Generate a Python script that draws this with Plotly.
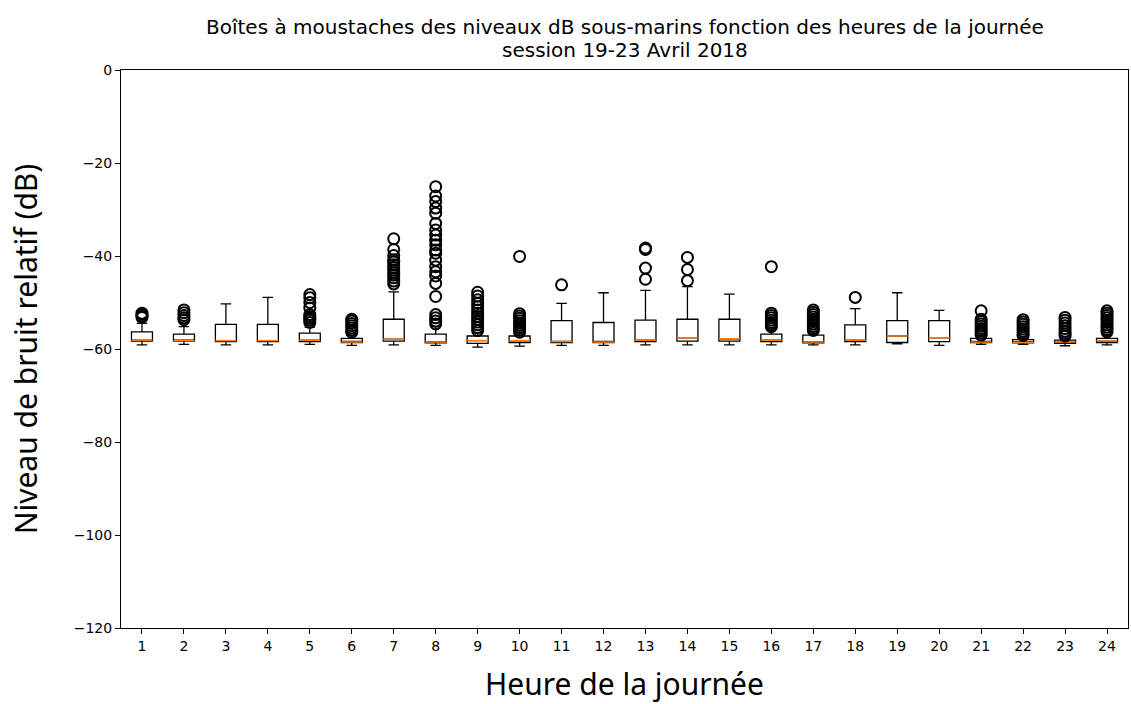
import plotly.graph_objects as go

# heures de la journée
hours = list(range(1, 25))

# statistiques des boîtes (dB)
lower_whisker = [-59.1, -59.0, -59.1, -59.1, -59.0, -59.2, -59.1, -59.2, -59.6, -59.4, -59.2, -59.2,
                 -59.1, -59.1, -59.1, -59.1, -59.1, -59.1, -58.9, -59.2, -59.0, -59.0, -59.3, -59.1]
q1 = [-58.3, -58.3, -58.4, -58.4, -58.4, -58.6, -58.3, -58.7, -58.8, -58.6, -58.6, -58.6,
      -58.4, -58.3, -58.3, -58.4, -58.7, -58.4, -58.6, -58.4, -58.6, -58.7, -58.8, -58.6]
median = [-58.1, -58.2, -58.2, -58.2, -58.1, -58.5, -57.9, -58.5, -58.2, -58.2, -58.4, -58.5,
          -58.1, -57.6, -57.8, -58.1, -58.5, -58.1, -57.2, -57.6, -58.5, -58.6, -58.5, -58.3]
q3 = [-56.3, -56.8, -54.7, -54.7, -56.6, -57.7, -53.6, -56.8, -57.2, -57.2, -53.9, -54.3,
      -53.8, -53.6, -53.6, -56.8, -57.0, -54.8, -53.9, -53.9, -57.7, -58.0, -58.1, -57.7]
upper_whisker = [-54.5, -55.2, -50.3, -48.9, -55.3, -57.0, -47.7, -55.2, -56.5, -56.0, -50.2, -47.9,
                 -47.4, -46.6, -48.2, -55.5, -56.3, -51.3, -47.9, -51.7, -57.2, -57.6, -57.6, -57.0]

# valeurs aberrantes par heure
outliers = {
    1: [-52.3, -52.6, -52.9, -53.2],
    2: [-51.6, -52.2, -52.8, -53.3, -53.7],
    3: [],
    4: [],
    5: [-48.3, -49.0, -50.0, -51.2, -52.6, -53.0, -53.4, -53.8, -54.3],
    6: [-53.6, -54.0, -54.5, -55.0, -55.5, -56.0, -56.4],
    7: [-36.3, -38.6, -39.9, -40.8, -41.3, -41.9, -42.5, -43.0, -43.6, -44.1, -44.7, -45.4, -46.0],
    8: [-25.1, -27.1, -28.3, -29.7, -30.8, -33.0, -34.4, -35.5, -36.6, -37.6, -38.7, -39.4, -40.9,
        -42.3, -43.4, -44.3, -45.9, -48.7, -52.6, -53.3, -54.0, -54.6],
    9: [-47.8, -48.6, -49.4, -50.2, -50.9, -51.6, -52.3, -53.0, -53.6, -54.2, -54.8, -55.4, -56.0],
    10: [-40.1, -52.4, -52.9, -53.4, -53.9, -54.4, -54.9, -55.4, -55.9, -56.4],
    11: [-46.2],
    12: [],
    13: [-38.3, -38.6, -42.6, -45.0],
    14: [-40.3, -42.9, -45.3],
    15: [],
    16: [-42.3, -52.3, -52.8, -53.3, -53.8, -54.3, -54.8, -55.2],
    17: [-51.6, -52.1, -52.6, -53.1, -53.6, -54.1, -54.6, -55.1, -55.6, -56.0],
    18: [-48.9],
    19: [],
    20: [],
    21: [-51.8, -53.6, -54.1, -54.6, -55.1, -55.6, -56.1, -56.6, -57.0],
    22: [-53.7, -54.2, -54.7, -55.2, -55.7, -56.2, -56.7, -57.1],
    23: [-53.2, -53.8, -54.4, -55.0, -55.6, -56.2, -56.8, -57.2],
    24: [-51.8, -52.3, -52.8, -53.3, -53.8, -54.3, -54.8, -55.3, -55.8, -56.3],
}

y_ticks = [0, -20, -40, -60, -80, -100, -120]

title_lines = ["Boîtes à moustaches des niveaux dB sous-marins fonction des heures de la journée",
               "session 19-23 Avril 2018"]

BOX_W = 0.5

fig = go.Figure()

fig.add_trace(go.Box(
    x=hours,
    q1=q1, median=median, q3=q3,
    lowerfence=lower_whisker, upperfence=upper_whisker,
    width=BOX_W,
    whiskerwidth=0.5,
    fillcolor="white",
    line=dict(color="black", width=1.3),
    boxpoints=False,
    showlegend=False,
    hoverinfo="skip",
))

# lignes médianes orange
mx, my = [], []
for h, m in zip(hours, median):
    mx += [h - BOX_W / 2, h + BOX_W / 2, None]
    my += [m, m, None]
fig.add_trace(go.Scatter(x=mx, y=my, mode="lines", line=dict(color="#ff7f0e", width=1.5),
                         showlegend=False, hoverinfo="skip"))

# points aberrants
ox, oy = [], []
for h in hours:
    for v in outliers[h]:
        ox.append(h)
        oy.append(v)
fig.add_trace(go.Scatter(x=ox, y=oy, mode="markers",
                         marker=dict(symbol="circle-open", size=11, color="black",
                                     line=dict(width=2, color="black")),
                         showlegend=False, hoverinfo="skip"))

# titre sur deux lignes
for i, line in enumerate(title_lines):
    fig.add_annotation(text=line, xref="paper", yref="paper", x=0.5, y=1 + (43 - 23 * i) / 558,
                       xanchor="center", yanchor="middle", showarrow=False,
                       font=dict(family="DejaVu Sans", size=20, color="black"))

tick_font = dict(family="DejaVu Sans", size=14, color="black")
label_font = dict(family="Noto Sans", size=30, color="black")

fig.update_layout(
    width=1131, height=704,
    plot_bgcolor="white", paper_bgcolor="white",
    margin=dict(l=121, r=3, t=70, b=76),
    xaxis=dict(
        range=[0.5, 24.5], tickvals=hours, ticktext=[str(h) for h in hours],
        showgrid=False, zeroline=False, showline=True, mirror=True,
        linecolor="black", linewidth=1, ticks="outside", ticklen=5, tickcolor="black",
        tickfont=tick_font,
        title=dict(text="Heure de la journée", font=label_font, standoff=23),
    ),
    yaxis=dict(
        range=[-120, 0], tickvals=y_ticks,
        ticktext=[str(v).replace("-", "\u2212") for v in y_ticks],
        showgrid=False, zeroline=False, showline=True, mirror=True,
        linecolor="black", linewidth=1, ticks="outside", ticklen=5, tickcolor="black",
        tickfont=tick_font,
        title=dict(text="Niveau de bruit relatif (dB)", font=label_font, standoff=27),
    ),
)

fig.write_html("out.html", config={"displayModeBar": False},
               post_script="document.body.style.margin='0';")
